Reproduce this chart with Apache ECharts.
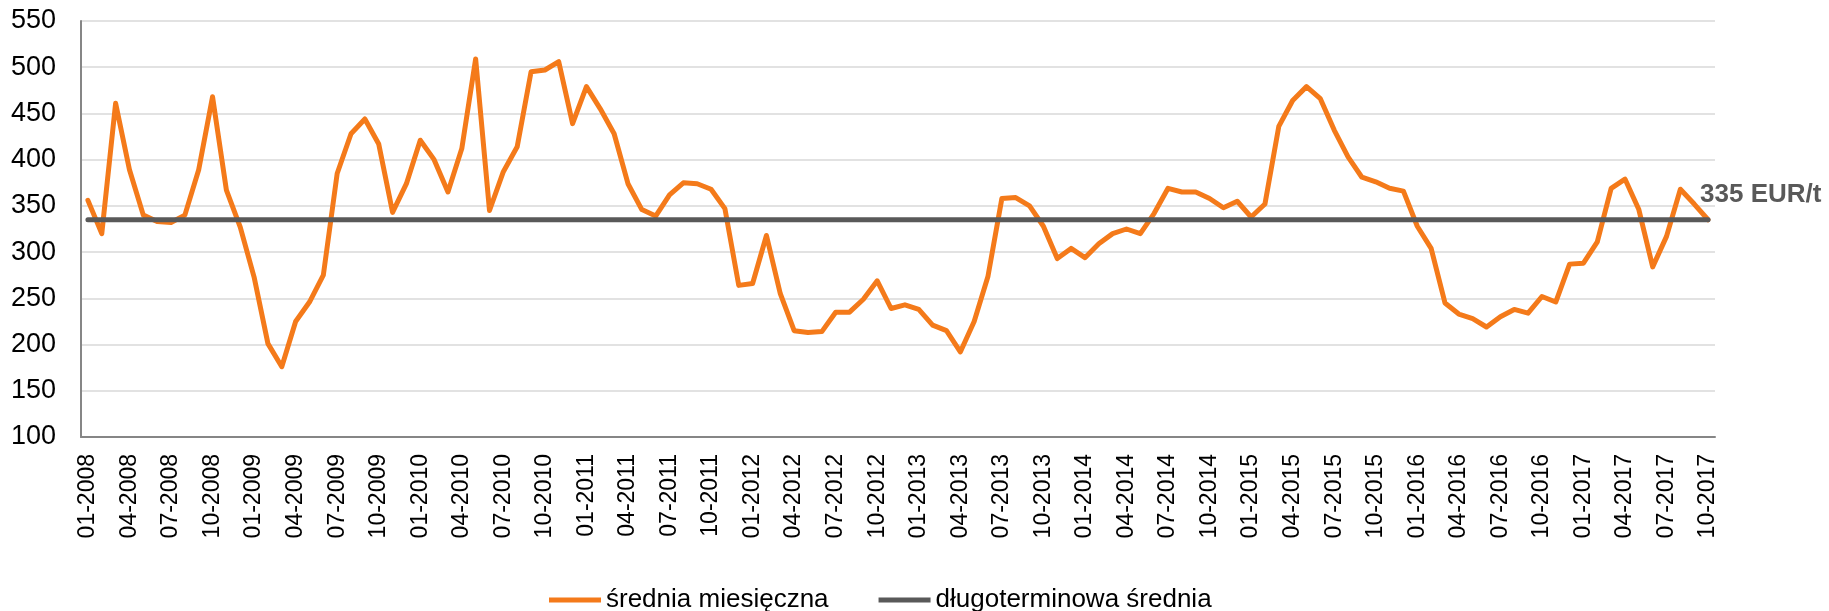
<!DOCTYPE html>
<html>
<head>
<meta charset="utf-8">
<title>Średnia cena</title>
<script src="https://cdn.jsdelivr.net/npm/echarts@6/dist/echarts.min.js"></script>
<style>
  html, body { margin: 0; padding: 0; background: #fff; }
  #chart { width: 1829px; height: 611px; }
</style>
</head>
<body>
<div id="chart"></div>
<script>
// month labels 01-2008 .. 10-2017
var months = []
for (var y = 2008; y <= 2017; y++) {
  for (var m = 1; m <= 12; m++) {
    if (y === 2017 && m > 10) break
    months.push((m < 10 ? '0' + m : '' + m) + '-' + y)
  }
}

// średnia miesięczna (EUR/t)
var monthly = [
  356, 320, 461, 389, 340, 333, 332, 340, 389, 468, 367, 327,
  273, 201, 176, 225, 246, 275, 385, 428, 444, 417, 343, 374,
  421, 400, 365, 412, 509, 345, 387, 414, 495, 497, 506, 439,
  479, 455, 428, 374, 346, 339, 362, 375, 374, 368, 347, 264,
  266, 318, 255, 215, 213, 214, 235, 235, 249, 269, 239, 243,
  238, 221, 215, 192, 225, 274, 358, 359, 350, 328, 293, 304,
  294, 309, 320, 325, 320, 342, 369, 365, 365, 358, 348, 355,
  338, 352, 436, 464, 479, 466, 432, 403, 381, 376, 369, 366,
  328, 304, 245, 233, 228, 219, 230, 238, 234, 252, 246, 287,
  288, 311, 369, 379, 346, 284, 317, 368, 352, 335
]

// długoterminowa średnia
var longTermAvg = 335
var avgLine = months.map(function () { return longTermAvg })

var yTicks = { min: 100, max: 550, step: 50 }

var font = "'Liberation Sans', Arial, sans-serif"

var chart = echarts.init(document.getElementById('chart'))
var option = {
  animation: false,
  grid: {
    left: 81,
    right: 114,
    top: 21,
    bottom: 174
  },
  legend: {
    left: 544,
    top: 582,
    icon: 'rect',
    itemWidth: 52,
    itemHeight: 5,
    itemGap: 50,
    textStyle: {
      fontFamily: font,
      fontSize: 26,
      color: '#000'
    },
    data: ['średnia miesięczna', 'długoterminowa średnia']
  },
  xAxis: {
    type: 'category',
    data: months,
    boundaryGap: true,
    axisLine: {
      show: true,
      lineStyle: { color: '#868686', width: 2 }
    },
    axisTick: { show: false },
    axisLabel: {
      interval: 2,
      rotate: 90,
      margin: 17,
      color: '#000',
      fontFamily: font,
      fontSize: 23
    },
    splitLine: { show: false }
  },
  yAxis: {
    type: 'value',
    min: yTicks.min,
    max: yTicks.max,
    interval: yTicks.step,
    axisLine: {
      show: true,
      lineStyle: { color: '#868686', width: 2 }
    },
    axisTick: { show: false },
    axisLabel: {
      margin: 25,
      color: '#000',
      fontFamily: font,
      fontSize: 27
    },
    splitLine: {
      lineStyle: { color: '#d9d9d9', width: 1.5 }
    }
  },
  series: [
    {
      name: 'średnia miesięczna',
      type: 'line',
      data: monthly,
      symbol: 'none',
      itemStyle: { color: '#F47A1A' },
      lineStyle: { color: '#F47A1A', width: 5, cap: 'round', join: 'round' }
    },
    {
      name: 'długoterminowa średnia',
      type: 'line',
      data: avgLine,
      symbol: 'none',
      itemStyle: { color: '#595959' },
      lineStyle: { color: '#595959', width: 5, cap: 'round' },
      endLabel: {
        show: true,
        formatter: '335 EUR/t',
        distance: 0,
        offset: [-8, -25],
        color: '#595959',
        fontFamily: font,
        fontWeight: 'bold',
        fontSize: 26
      }
    }
  ]
}
chart.setOption(option)
</script>
</body>
</html>
